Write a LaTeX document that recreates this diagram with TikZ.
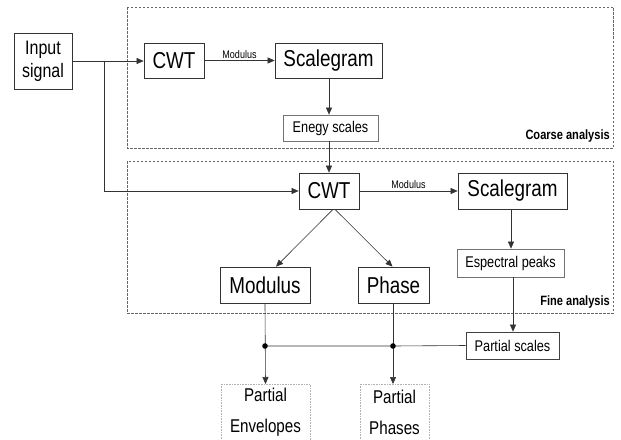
\documentclass[tikz,border=0pt]{standalone}
\usepackage{fontspec}
\setmainfont{Liberation Sans}[FakeStretch=0.82]
\usetikzlibrary{arrows.meta}
\begin{document}
\begin{tikzpicture}[x=1pt,y=-1pt,
  box/.style={draw=black!80,line width=0.7pt,inner sep=0pt,align=center,font=\fontsize{23}{25}\selectfont},
  smallbox/.style={draw=black!55,line width=0.7pt,inner sep=0pt,align=center,font=\fontsize{15.5}{17}\selectfont},
  outbox/.style={draw=black!30,line width=0.6pt,densely dotted,inner sep=0pt,align=center,font=\fontsize{18.5}{31}\selectfont},
  region/.style={draw=black!60,line width=0.7pt,dash pattern=on 2.5pt off 1.5pt},
  conn/.style={draw=black!80,line width=0.6pt},
  arr/.style={conn,-{Triangle[length=7pt,width=6pt]}},
  lbl/.style={font=\fontsize{11}{12}\selectfont,inner sep=1pt},
  reglbl/.style={font=\bfseries\fontsize{13.5}{15}\selectfont,inner sep=0pt,anchor=east}
]
\useasboundingbox (0,0) rectangle (621,439);
\clip (0,0) rectangle (621,439);
% regions
\draw[region] (127,7) rectangle (613,148);
\draw[region] (127,161) rectangle (613,313);
\node[reglbl] (coarse) at (610,136) {Coarse analysis};
\node[reglbl] (fine) at (610,302) {Fine analysis};
% nodes
\node[box,minimum width=58pt,minimum height=56pt,font=\fontsize{19.5}{23}\selectfont] (inp) at (43,61) {Input\\signal};
\node[box,minimum width=60pt,minimum height=35pt] (cwt1) at (174,60.5) {CWT};
\node[box,minimum width=107pt,minimum height=35pt] (sg1) at (328.5,60.5) {Scalegram};
\node[smallbox,minimum width=95pt,minimum height=26pt] (eng) at (330.5,128) {Enegy scales};
\node[box,minimum width=60pt,minimum height=36pt] (cwt2) at (329,191) {CWT};
\node[box,minimum width=109pt,minimum height=36pt] (sg2) at (512.5,191) {Scalegram};
\node[smallbox,minimum width=107pt,minimum height=28pt] (esp) at (510.5,263) {Espectral peaks};
\node[box,minimum width=90pt,minimum height=36pt] (mod) at (265,285) {Modulus};
\node[box,minimum width=71pt,minimum height=36pt] (pha) at (393.5,285) {Phase};
\node[smallbox,draw=black!75,minimum width=93pt,minimum height=27pt] (ps) at (512.5,345.5) {Partial scales};
\coordinate (petop) at (265.5,384);
\coordinate (pptop) at (394.5,384);
\node[outbox,minimum width=89pt,minimum height=56pt,anchor=north] (pe) at (petop) {Partial\\Envelopes};
\node[outbox,minimum width=69pt,minimum height=56pt,anchor=north] (pp) at (pptop) {Partial\\Phases};
\draw[draw=black!30,line width=0.6pt,densely dotted] (pe.south west) -- ++(0,10) (pe.south east) -- ++(0,10)
  (pp.south west) -- ++(0,10) (pp.south east) -- ++(0,10);
% junctions
\coordinate (j0) at (104,61);
\coordinate (j1) at (104,191);
\coordinate (d1) at (265,346);
\coordinate (d2) at (393,346);
% connectors
\draw[arr] (inp.east |- j0) -- (cwt1.west |- j0);
\draw[arr] (j0) -- (j1) -- (cwt2.west |- j1);
\draw[arr] (cwt1) -- node[lbl,above=1pt] (m1) {Modulus} (sg1);
\draw[arr] (sg1.south -| eng.north) ++(-1.5,0) -- ([xshift=-1.5pt]eng.north);
\draw[arr] ([xshift=-1.5pt]eng.south) -- (cwt2.north);
\draw[arr] (cwt2) -- node[lbl,above=1pt] (m2) {Modulus} (sg2);
\draw[arr] (sg2.south -| esp.north) ++(0.5,0) -- ([xshift=0.5pt]esp.north);
\draw[arr] ([xshift=2.5pt]esp.south) -- ([xshift=0.5pt]ps.north);
\draw[arr] ([xshift=4pt]cwt2.south) -- ([xshift=11pt]mod.north);
\draw[arr] ([xshift=6pt]cwt2.south) -- ([xshift=-1pt]pha.north);
\draw[arr] (mod.south) -- (pe.north);
\draw[arr] ([xshift=-0.5pt]pha.south) -- ([xshift=-1.5pt]pp.north);
\draw[conn] (ps.west) -- (d2) -- (d1);
\fill (d1) circle (2.8pt);
\fill (d2) circle (2.8pt);
\end{tikzpicture}
\end{document}
